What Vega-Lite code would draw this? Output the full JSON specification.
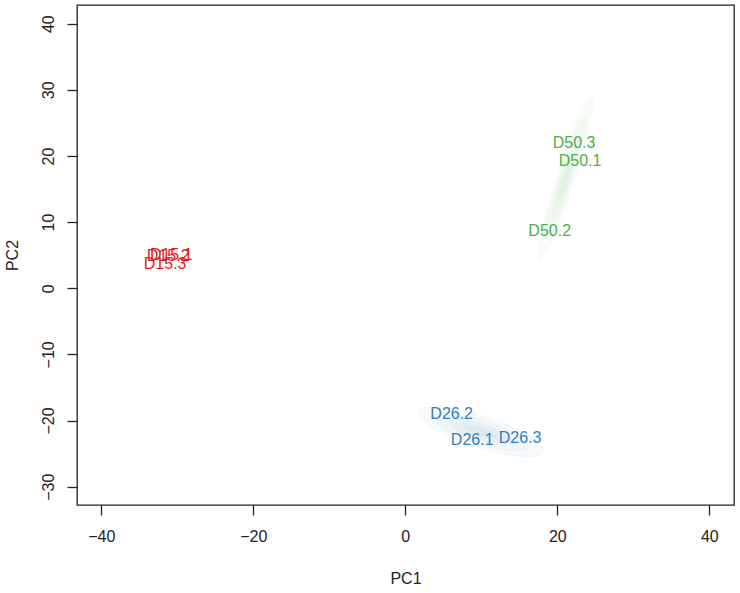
{
  "$schema": "https://vega.github.io/schema/vega-lite/v6.json",
  "width": 657,
  "height": 500,
  "autosize": {"type": "none"},
  "padding": {"left": 77, "top": 5, "right": 6, "bottom": 88},
  "background": "white",
  "config": {
    "font": "Liberation Sans",
    "view": {"stroke": "#222", "strokeWidth": 1.3},
    "axis": {
      "grid": false,
      "domain": false,
      "tickColor": "#222",
      "tickSize": 10,
      "tickWidth": 1.3,
      "labelColor": "#222",
      "titleColor": "#222",
      "labelFont": "Liberation Sans",
      "titleFont": "Liberation Sans",
      "labelFontSize": 16,
      "titleFontSize": 16,
      "titleFontWeight": "normal"
    }
  },
  "datasets": {
    "samples": [
      {"label": "D15.1", "group": "D15", "PC1": -30.8, "PC2": 5.0},
      {"label": "D15.2", "group": "D15", "PC1": -31.2, "PC2": 4.9},
      {"label": "D15.3", "group": "D15", "PC1": -31.6, "PC2": 3.7},
      {"label": "D26.1", "group": "D26", "PC1": 8.8, "PC2": -22.9},
      {"label": "D26.2", "group": "D26", "PC1": 6.1, "PC2": -19.0},
      {"label": "D26.3", "group": "D26", "PC1": 15.1, "PC2": -22.6},
      {"label": "D50.1", "group": "D50", "PC1": 23.0, "PC2": 19.3},
      {"label": "D50.2", "group": "D50", "PC1": 19.0, "PC2": 8.7},
      {"label": "D50.3", "group": "D50", "PC1": 22.2, "PC2": 22.0}
    ],
    "ellipses": [
      {"group": "D26", "PC1": 9.9, "PC2": -21.7},
      {"group": "D50", "PC1": 21.1, "PC2": 16.7}
    ]
  },
  "encoding": {
    "x": {
      "field": "PC1", "type": "quantitative",
      "scale": {"domain": [-43.2, 43.25], "nice": false, "zero": false},
      "axis": {"values": [-40, -20, 0, 20, 40], "title": "PC1", "labelPadding": 21, "labelBaseline": "middle", "titleBaseline": "middle", "titleY": 73}
    },
    "y": {
      "field": "PC2", "type": "quantitative",
      "scale": {"domain": [-32.77, 42.83], "nice": false, "zero": false},
      "axis": {"values": [-30, -20, -10, 0, 10, 20, 30, 40], "title": "PC2", "labelAngle": 270, "labelAlign": "center", "labelBaseline": "middle", "labelPadding": 19, "titleAngle": 270, "titleAlign": "center", "titleBaseline": "middle", "titleX": -65, "titleY": 250}
    }
  },
  "layer": [
    {"data": {"name": "ellipses"}, "transform": [{"filter": "datum.group === 'D26'"}],
     "mark": {"type": "point", "shape": "M -1 0 A 1 0.24 0 1 1 1 0 A 1 0.24 0 1 1 -1 0 Z", "size": 17161, "angle": 17.7, "filled": true, "fill": "#377EB8", "fillOpacity": 0.04, "stroke": "#377EB8", "strokeOpacity": 0.08, "strokeWidth": 0.6}},
    {"data": {"name": "ellipses"}, "transform": [{"filter": "datum.group === 'D26'"}],
     "mark": {"type": "point", "shape": "M -1 0 A 1 0.24 0 1 1 1 0 A 1 0.24 0 1 1 -1 0 Z", "size": 9700, "angle": 17.7, "filled": true, "fill": "#377EB8", "fillOpacity": 0.04, "stroke": "#377EB8", "strokeOpacity": 0.07, "strokeWidth": 0.6}},
    {"data": {"name": "ellipses"}, "transform": [{"filter": "datum.group === 'D26'"}],
     "mark": {"type": "point", "shape": "M -1 0 A 1 0.24 0 1 1 1 0 A 1 0.24 0 1 1 -1 0 Z", "size": 4300, "angle": 17.7, "filled": true, "fill": "#377EB8", "fillOpacity": 0.045, "stroke": "#377EB8", "strokeOpacity": 0.06, "strokeWidth": 0.6}},
    {"data": {"name": "ellipses"}, "transform": [{"filter": "datum.group === 'D26'"}],
     "mark": {"type": "point", "shape": "M -1 0 A 1 0.24 0 1 1 1 0 A 1 0.24 0 1 1 -1 0 Z", "size": 1300, "angle": 17.7, "filled": true, "fill": "#377EB8", "fillOpacity": 0.05, "strokeOpacity": 0}},
    {"data": {"name": "ellipses"}, "transform": [{"filter": "datum.group === 'D50'"}],
     "mark": {"type": "point", "shape": "M 0 -1 A 0.1 1 0 1 1 0 1 A 0.1 1 0 1 1 0 -1 Z", "size": 29241, "angle": 17.6, "filled": true, "fill": "#4DAF4A", "fillOpacity": 0.04, "stroke": "#4DAF4A", "strokeOpacity": 0.08, "strokeWidth": 0.6}},
    {"data": {"name": "ellipses"}, "transform": [{"filter": "datum.group === 'D50'"}],
     "mark": {"type": "point", "shape": "M 0 -1 A 0.1 1 0 1 1 0 1 A 0.1 1 0 1 1 0 -1 Z", "size": 16500, "angle": 17.6, "filled": true, "fill": "#4DAF4A", "fillOpacity": 0.04, "stroke": "#4DAF4A", "strokeOpacity": 0.07, "strokeWidth": 0.6}},
    {"data": {"name": "ellipses"}, "transform": [{"filter": "datum.group === 'D50'"}],
     "mark": {"type": "point", "shape": "M 0 -1 A 0.1 1 0 1 1 0 1 A 0.1 1 0 1 1 0 -1 Z", "size": 7300, "angle": 17.6, "filled": true, "fill": "#4DAF4A", "fillOpacity": 0.045, "stroke": "#4DAF4A", "strokeOpacity": 0.06, "strokeWidth": 0.6}},
    {"data": {"name": "ellipses"}, "transform": [{"filter": "datum.group === 'D50'"}],
     "mark": {"type": "point", "shape": "M 0 -1 A 0.1 1 0 1 1 0 1 A 0.1 1 0 1 1 0 -1 Z", "size": 2200, "angle": 17.6, "filled": true, "fill": "#4DAF4A", "fillOpacity": 0.05, "strokeOpacity": 0}},
    {"data": {"name": "samples"},
     "mark": {"type": "text", "font": "Liberation Sans", "fontSize": 16, "align": "center", "baseline": "middle"},
     "encoding": {
       "text": {"field": "label"},
       "color": {"field": "group", "type": "nominal", "scale": {"domain": ["D15", "D26", "D50"], "range": ["#E41A1C", "#377EB8", "#4DAF4A"]}, "legend": null}
     }}
  ]
}
